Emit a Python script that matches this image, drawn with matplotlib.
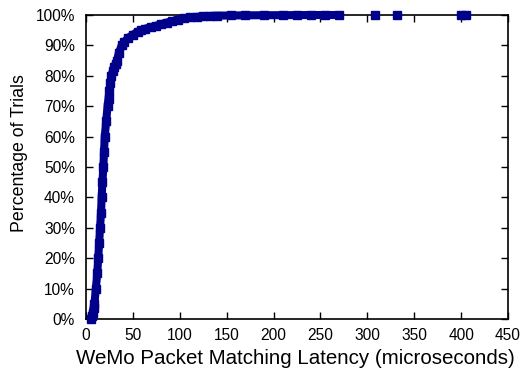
import matplotlib
matplotlib.use("Agg")
import matplotlib.pyplot as plt
from matplotlib.ticker import FuncFormatter

# CDF (latency in microseconds, percentage of trials)
latency = [5, 6, 7, 8, 9, 10.5, 12, 13, 14, 15, 16, 16.7, 17.5, 18.5, 19.2, 20,
           21.5, 23, 24, 25, 26, 27, 28.5, 30, 31.5, 33, 35, 38, 41, 45, 50,
           55, 59, 63, 69, 75, 80, 86, 92, 98, 104, 111, 118, 125, 132, 140,
           155, 170, 190, 210, 225, 240, 255, 270]
percent = [0, 1, 2, 3.5, 5, 10, 15, 20, 25, 30, 35, 40, 45, 50, 55, 60,
           65, 70, 72.5, 75, 77.5, 80, 81.5, 83, 84, 85, 87.5, 90, 91.2, 92.5, 93.5,
           94.5, 95, 95.5, 96, 96.5, 97, 97.5, 98, 98.5, 98.9, 99.2, 99.4, 99.6, 99.7, 99.8,
           99.85, 99.9, 99.93, 99.95, 99.97, 100, 100, 100]
outlier_latency = [308, 332, 400, 405]
outlier_percent = [100, 100, 100, 100]

plt.rcParams["font.family"] = ["Liberation Sans", "DejaVu Sans"]
color = "#00008b"

fig = plt.figure(figsize=(5.26, 3.69), dpi=100)
ax = fig.add_axes([0.1635, 0.1355, 0.8023, 0.8238])

ax.plot(latency, percent, color=color, lw=5.8, marker="s", ms=5.8,
        solid_capstyle="butt", clip_on=False, zorder=3)
ax.plot(outlier_latency, outlier_percent, ls="none", color=color, marker="s",
        ms=5.8, clip_on=False, zorder=3)

ax.set_xlim(0, 450)
ax.set_ylim(0, 100)
ax.set_xticks(range(0, 451, 50))
ax.set_yticks(range(0, 101, 10))
ax.yaxis.set_major_formatter(FuncFormatter(lambda v, p: "%d%%" % v))
ax.tick_params(direction="in", length=5, width=1, labelsize=11.2,
               top=True, right=True)
ax.tick_params(axis="x", pad=6.5)
ax.tick_params(axis="y", pad=8)
for s in ax.spines.values():
    s.set_linewidth(1.2)

ax.set_xlabel("WeMo Packet Matching Latency (microseconds)", fontsize=14.8)
ax.set_ylabel("Percentage of Trials", fontsize=12.8)
ax.xaxis.set_label_coords(0.495, -0.10)
ax.yaxis.set_label_coords(-0.137, 0.546)

fig.savefig("out.png", dpi=100)
